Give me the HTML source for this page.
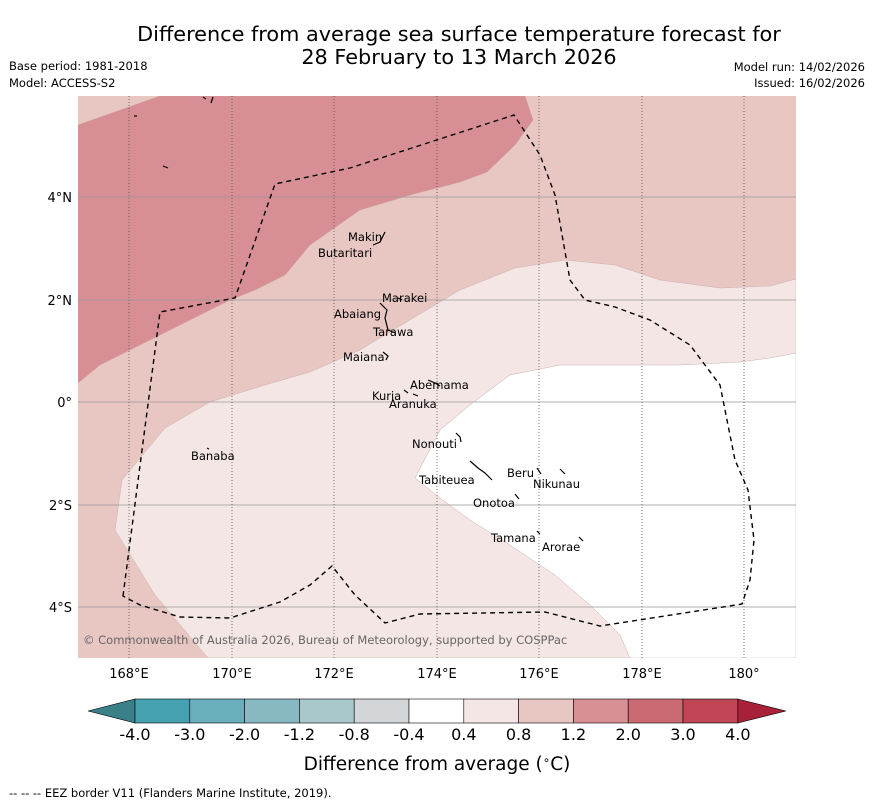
<!DOCTYPE html>
<html><head><meta charset="utf-8"><style>
body{margin:0;background:#fff;font-family:"DejaVu Sans","Liberation Sans",sans-serif;}
svg{display:block;font-family:"DejaVu Sans","Liberation Sans",sans-serif;}
</style></head><body>
<svg width="873" height="804" viewBox="0 0 873 804">
<text x="459" y="41" text-anchor="middle" font-size="20.8">Difference from average sea surface temperature forecast for</text>
<text x="459" y="64" text-anchor="middle" font-size="20.8">28 February to 13 March 2026</text>
<text x="9" y="70" font-size="11.5">Base period: 1981-2018</text>
<text x="9" y="87" font-size="11.5">Model: ACCESS-S2</text>
<text x="865" y="71" font-size="11.5" text-anchor="end">Model run: 14/02/2026</text>
<text x="865" y="87" font-size="11.5" text-anchor="end">Issued: 16/02/2026</text>
<defs><clipPath id="mc"><rect x="78" y="96" width="718" height="562"/></clipPath></defs>
<g clip-path="url(#mc)">
<rect x="78" y="96" width="718" height="562" fill="#e8c6c2"/>
<path d="M78,125 L160,96 L525,96 L533,120 L515,145 L487,172 L460,182 L410,195 L360,210 L310,245 L285,275 L255,290 L230,300 L200,315 L160,335 L100,365 L78,383 Z" fill="#d88e95" stroke="#c9a0a0" stroke-width="0.5"/>
<path d="M208,658 L155,595 L115,530 L122,480 L165,428 L210,402 L265,385 L310,372 L360,350 L410,320 L460,290 L515,268 L565,260 L615,265 L660,280 L720,288 L770,286 L796,279 L796,658 Z" fill="#f4e6e5" stroke="#c9b0b0" stroke-width="0.5"/>
<path d="M415,478 L440,430 L470,405 L510,375 L560,365 L620,365 L680,365 L740,362 L770,358 L796,353 L796,658 L630,658 L620,635 L590,605 L555,575 L510,545 L470,520 L440,498 Z" fill="#ffffff" stroke="#c9b0b0" stroke-width="0.5"/>
<g stroke="#999" stroke-width="0.8">
<line x1="78" x2="796" y1="197" y2="197"/><line x1="78" x2="796" y1="300" y2="300"/><line x1="78" x2="796" y1="402" y2="402"/><line x1="78" x2="796" y1="505" y2="505"/><line x1="78" x2="796" y1="607" y2="607"/></g>
<g stroke="#555" stroke-width="0.8" stroke-dasharray="1,2">
<line x1="129" x2="129" y1="96" y2="658"/><line x1="232" x2="232" y1="96" y2="658"/><line x1="334" x2="334" y1="96" y2="658"/><line x1="437" x2="437" y1="96" y2="658"/><line x1="539" x2="539" y1="96" y2="658"/><line x1="642" x2="642" y1="96" y2="658"/><line x1="744" x2="744" y1="96" y2="658"/></g>
<path d="M123,596 L160,312 L235,298 L275,184 L350,168 L514,115 L540,155 L555,195 L570,280 L585,300 L615,307 L650,320 L690,345 L720,385 L735,460 L748,490 L754,540 L750,580 L742,604 L600,626 L545,612 L420,614 L385,623 L355,595 L332,566 L310,585 L280,602 L230,618 L180,617 L140,605 Z" fill="none" stroke="#000" stroke-width="1.4" stroke-dasharray="5,4"/>
<g stroke="#000" stroke-width="1.2" fill="none">
<path d="M373,245 L380,242 L385,232"/><path d="M380,303 L387,310 L385,318 L388,330 L395,333"/><path d="M383,352 L388,356 L386,360"/><path d="M428,380 L435,383 L440,386"/><path d="M404,390 L408,393"/><path d="M413,394 L418,396"/><path d="M456,433 L460,437 L461,442"/><path d="M470,461 L478,468 L485,473 L492,480"/><path d="M537,468 L541,474"/><path d="M560,469 L565,474"/><path d="M515,494 L519,499"/><path d="M537,531 L540,534"/><path d="M579,537 L583,541"/><path d="M163,166 L168,168"/><path d="M203,97 L206,99"/><path d="M211,103 L213,97"/><path d="M134,116 L137,116"/><path d="M207,448 L209,449"/><path d="M398,298 L402,300"/>
</g>
<g font-size="11.5" fill="#000">
<text x="348" y="241">Makin</text><text x="318" y="257">Butaritari</text><text x="382" y="302">Marakei</text><text x="334" y="318">Abaiang</text><text x="373" y="336">Tarawa</text><text x="343" y="361">Maiana</text><text x="410" y="389">Abemama</text><text x="372" y="400">Kuria</text><text x="389" y="408">Aranuka</text><text x="412" y="448">Nonouti</text><text x="191" y="460">Banaba</text><text x="507" y="477">Beru</text><text x="533" y="488">Nikunau</text><text x="419" y="484">Tabiteuea</text><text x="473" y="507">Onotoa</text><text x="491" y="542">Tamana</text><text x="542" y="551">Arorae</text>
</g>
<text x="83" y="644" font-size="11.5" fill="#666">© Commonwealth of Australia 2026, Bureau of Meteorology, supported by COSPPac</text>
</g>
<g font-size="13" text-anchor="middle">
<text x="129" y="678">168°E</text><text x="232" y="678">170°E</text><text x="334" y="678">172°E</text><text x="437" y="678">174°E</text><text x="539" y="678">176°E</text><text x="642" y="678">178°E</text><text x="744" y="678">180°</text></g>
<g font-size="13" text-anchor="end">
<text x="72" y="202">4°N</text><text x="72" y="305">2°N</text><text x="72" y="407">0°</text><text x="72" y="510">2°S</text><text x="72" y="612">4°S</text></g>
<g id="cbar"></g>
<text x="437" y="770" text-anchor="middle" font-size="18.5">Difference from average (<tspan font-size="12" dy="-6">∘</tspan><tspan dy="6">C)</tspan></text>
<text x="9" y="797" font-size="11.5">--  --  -- EEZ border V11 (Flanders Marine Institute, 2019).</text>
</svg>
<script>
const bins=["-4.0","-3.0","-2.0","-1.2","-0.8","-0.4","0.4","0.8","1.2","2.0","3.0","4.0"];
const binColors=["#45a0b0","#68aebb","#88b8c2","#a8c8cc","#d2d6d9","#ffffff","#f4e6e5","#e8c6c2","#d88e95","#cc6a74","#c04555"];
const ns="http://www.w3.org/2000/svg";
const g=document.getElementById("cbar");
const x0=135,w=54.8,y0=699,h=24;
function mk(t,a){const e=document.createElementNS(ns,t);for(const k in a)e.setAttribute(k,a[k]);g.appendChild(e);return e;}
const lt=mk("polygon",{points:`88,711 ${x0},${y0} ${x0},${y0+h}`,fill:"#3a8088",stroke:"#000","stroke-width":0.6});


const xe=x0+w*binColors.length;
const rt=mk("polygon",{points:`${xe},${y0} 786,711 ${xe},${y0+h}`,fill:"#a8203a",stroke:"#000","stroke-width":0.6});


binColors.forEach((c,i)=>{
 const r=mk("rect",{x:x0+i*w,y:y0,width:w,height:h,fill:c,stroke:"#000","stroke-width":0.6});
 
 
});
bins.forEach((b,i)=>{
 const t=mk("text",{x:x0+i*w,y:740,"text-anchor":"middle","font-size":16});
 t.textContent=b;
 
 
});
</script>
</body></html>
